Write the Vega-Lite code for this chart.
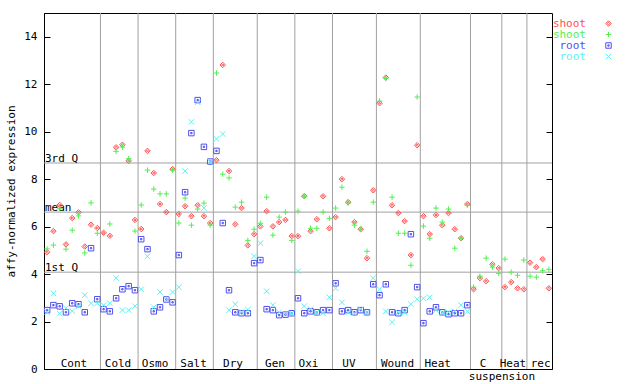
{
  "$schema": "https://vega.github.io/schema/vega-lite/v6.json",
  "width": 508,
  "height": 356,
  "autosize": {"type": "none"},
  "padding": {"left": 44, "top": 13, "right": 88, "bottom": 15},
  "background": "white",
  "config": {
    "view": {"stroke": "black", "strokeWidth": 1},
    "font": "DejaVu Sans Mono",
    "text": {"font": "DejaVu Sans Mono", "fontSize": 11, "color": "black"}
  },
  "resolve": {"axis": {"y": "independent"}},
  "layer": [
    {
      "data": {"values": [{"b": 8.5}, {"b": 14.5}, {"b": 20.5}, {"b": 26.5}, {"b": 33.5}, {"b": 39.5}, {"b": 45.5}, {"b": 52.5}, {"b": 59.5}, {"b": 67.5}, {"b": 72.5}, {"b": 76.5}]},
      "mark": {"type": "rule", "color": "#a0a0a0", "strokeWidth": 1},
      "encoding": {
        "x": {"field": "b", "type": "quantitative", "scale": {"domain": [-0.5, 80.5], "nice": false, "zero": false}, "axis": null}
      }
    },
    {
      "data": {"values": [{"q": 4.08, "t": "1st Q"}, {"q": 6.61, "t": "mean"}, {"q": 8.68, "t": "3rd Q"}]},
      "layer": [
        {
          "mark": {"type": "rule", "color": "#a0a0a0", "strokeWidth": 1},
          "encoding": {
            "y": {"field": "q", "type": "quantitative", "scale": {"domain": [0, 15], "nice": false, "zero": true},
              "axis": {"orient": "left", "values": [0, 2, 4, 6, 8, 10, 12, 14], "tickSize": -6, "tickColor": "black", "domainColor": "black", "grid": false,
                "labelFont": "DejaVu Sans Mono", "labelFontSize": 11, "labelColor": "black", "labelPadding": 13,
                "title": "affy-normalized expression", "titleFont": "DejaVu Sans Mono", "titleFontSize": 11, "titleFontWeight": "normal", "titleColor": "black", "titlePadding": 7}}
          }
        },
        {
          "mark": {"type": "text", "align": "left", "baseline": "alphabetic", "dx": 1, "dy": -1},
          "encoding": {
            "x": {"datum": -0.5, "type": "quantitative"},
            "y": {"field": "q", "type": "quantitative"},
            "text": {"field": "t"}
          }
        }
      ]
    },
    {
      "data": {"values": [
        {"p": 4.28, "t": "Cont"}, {"p": 11.3, "t": "Cold"}, {"p": 17.2, "t": "Osmo"}, {"p": 23.34, "t": "Salt"},
        {"p": 29.63, "t": "Dry"}, {"p": 36.33, "t": "Gen"}, {"p": 41.67, "t": "Oxi"}, {"p": 48.13, "t": "UV"},
        {"p": 55.86, "t": "Wound"}, {"p": 62.28, "t": "Heat"}, {"p": 69.49, "t": "C"}, {"p": 74.28, "t": "Heat"}, {"p": 78.69, "t": "rec"}
      ]},
      "mark": {"type": "text", "align": "center", "baseline": "middle"},
      "encoding": {
        "x": {"field": "p", "type": "quantitative"},
        "y": {"datum": 0.21, "type": "quantitative", "axis": null},
        "text": {"field": "t"}
      }
    },
    {
      "data": {"values": [{"p": 72.52, "t": "suspension"}]},
      "mark": {"type": "text", "align": "center", "baseline": "middle"},
      "encoding": {
        "x": {"field": "p", "type": "quantitative"},
        "y": {"datum": -0.32, "type": "quantitative", "axis": null},
        "text": {"field": "t"}
      }
    },
    {
      "data": {"values": [
        {"i": 0, "shoot1": 4.92, "shoot2": 5.06, "root1": 2.48, "root2": 2.39},
        {"i": 1, "shoot1": 5.81, "shoot2": 5.22, "root1": 2.69, "root2": 3.19},
        {"i": 2, "shoot1": 6.91, "shoot2": 6.77, "root1": 2.64, "root2": 2.33},
        {"i": 3, "shoot1": 5.25, "shoot2": 5.05, "root1": 2.39, "root2": 2.56},
        {"i": 4, "shoot1": 6.36, "shoot2": 5.85, "root1": 2.77, "root2": 2.44},
        {"i": 5, "shoot1": 6.6, "shoot2": 6.45, "root1": 2.73, "root2": 2.65},
        {"i": 6, "shoot1": 5.16, "shoot2": 4.89, "root1": 2.39, "root2": 3.11},
        {"i": 7, "shoot1": 6.08, "shoot2": 7.0, "root1": 5.09, "root2": 2.77},
        {"i": 8, "shoot1": 5.94, "shoot2": 5.72, "root1": 2.94, "root2": 2.77},
        {"i": 9, "shoot1": 5.74, "shoot2": 5.71, "root1": 2.52, "root2": 2.69},
        {"i": 10, "shoot1": 5.61, "shoot2": 6.11, "root1": 2.43, "root2": 2.77},
        {"i": 11, "shoot1": 9.34, "shoot2": 9.17, "root1": 2.98, "root2": 3.83},
        {"i": 12, "shoot1": 9.45, "shoot2": 9.35, "root1": 3.36, "root2": 2.48},
        {"i": 13, "shoot1": 8.77, "shoot2": 8.86, "root1": 3.49, "root2": 2.48},
        {"i": 14, "shoot1": 6.28, "shoot2": 5.81, "root1": 3.32, "root2": 2.65},
        {"i": 15, "shoot1": 5.9, "shoot2": 6.91, "root1": 5.47, "root2": 3.36},
        {"i": 16, "shoot1": 9.19, "shoot2": 8.38, "root1": 5.05, "root2": 4.75},
        {"i": 17, "shoot1": 8.26, "shoot2": 7.58, "root1": 2.43, "root2": 2.6},
        {"i": 18, "shoot1": 6.95, "shoot2": 7.38, "root1": 2.6, "root2": 3.24},
        {"i": 19, "shoot1": 6.61, "shoot2": 7.38, "root1": 2.93, "root2": 2.93},
        {"i": 20, "shoot1": 8.42, "shoot2": 8.38, "root1": 2.81, "root2": 3.24},
        {"i": 21, "shoot1": 6.53, "shoot2": 6.15, "root1": 4.8, "root2": 3.45},
        {"i": 22, "shoot1": 6.86, "shoot2": 7.2, "root1": 7.45, "root2": 8.34},
        {"i": 23, "shoot1": 6.44, "shoot2": 6.06, "root1": 9.94, "root2": 10.41},
        {"i": 24, "shoot1": 6.9, "shoot2": 6.74, "root1": 11.33, "root2": 11.24},
        {"i": 25, "shoot1": 6.44, "shoot2": 6.99, "root1": 9.36, "root2": 6.78},
        {"i": 26, "shoot1": 6.15, "shoot2": 6.06, "root1": 8.74, "root2": 8.72},
        {"i": 27, "shoot1": 8.8, "shoot2": 12.47, "root1": 9.19, "root2": 9.7},
        {"i": 28, "shoot1": 12.81, "shoot2": 8.21, "root1": 6.15, "root2": 9.9},
        {"i": 29, "shoot1": 8.34, "shoot2": 8.05, "root1": 3.32, "root2": 2.48},
        {"i": 30, "shoot1": 6.1, "shoot2": 6.82, "root1": 2.39, "root2": 2.73},
        {"i": 31, "shoot1": 6.78, "shoot2": 7.03, "root1": 2.35, "root2": 2.4},
        {"i": 32, "shoot1": 5.21, "shoot2": 5.42, "root1": 2.35, "root2": 2.5},
        {"i": 33, "shoot1": 5.68, "shoot2": 5.89, "root1": 4.46, "root2": 4.75},
        {"i": 34, "shoot1": 6.01, "shoot2": 6.14, "root1": 4.59, "root2": 5.3},
        {"i": 35, "shoot1": 6.65, "shoot2": 7.24, "root1": 2.52, "root2": 3.28},
        {"i": 36, "shoot1": 6.01, "shoot2": 5.64, "root1": 2.48, "root2": 2.69},
        {"i": 37, "shoot1": 6.19, "shoot2": 6.4, "root1": 2.27, "root2": 2.39},
        {"i": 38, "shoot1": 6.28, "shoot2": 6.61, "root1": 2.29, "root2": 2.29},
        {"i": 39, "shoot1": 5.6, "shoot2": 5.42, "root1": 2.35, "root2": 2.35},
        {"i": 40, "shoot1": 5.6, "shoot2": 6.65, "root1": 2.98, "root2": 4.12},
        {"i": 41, "shoot1": 7.28, "shoot2": 7.28, "root1": 2.35, "root2": 2.65},
        {"i": 42, "shoot1": 5.81, "shoot2": 5.93, "root1": 2.43, "root2": 2.52},
        {"i": 43, "shoot1": 6.31, "shoot2": 5.93, "root1": 2.39, "root2": 2.39},
        {"i": 44, "shoot1": 7.28, "shoot2": 6.61, "root1": 2.48, "root2": 2.35},
        {"i": 45, "shoot1": 5.93, "shoot2": 6.35, "root1": 2.48, "root2": 3.02},
        {"i": 46, "shoot1": 6.4, "shoot2": 6.78, "root1": 3.61, "root2": 3.4},
        {"i": 47, "shoot1": 8.0, "shoot2": 7.66, "root1": 2.43, "root2": 2.81},
        {"i": 48, "shoot1": 7.03, "shoot2": 6.99, "root1": 2.48, "root2": 2.39},
        {"i": 49, "shoot1": 6.19, "shoot2": 6.06, "root1": 2.39, "root2": 2.35},
        {"i": 50, "shoot1": 5.89, "shoot2": 5.89, "root1": 2.48, "root2": 2.52},
        {"i": 51, "shoot1": 4.67, "shoot2": 4.96, "root1": 2.39, "root2": 2.39},
        {"i": 52, "shoot1": 7.53, "shoot2": 7.03, "root1": 3.57, "root2": 3.83},
        {"i": 53, "shoot1": 11.2, "shoot2": 11.29, "root1": 3.11, "root2": 3.36},
        {"i": 54, "shoot1": 12.28, "shoot2": 12.24, "root1": 3.57, "root2": 2.43},
        {"i": 55, "shoot1": 6.9, "shoot2": 7.24, "root1": 2.39, "root2": 1.97},
        {"i": 56, "shoot1": 6.57, "shoot2": 5.72, "root1": 2.35, "root2": 2.39},
        {"i": 57, "shoot1": 6.23, "shoot2": 5.72, "root1": 2.48, "root2": 2.39},
        {"i": 58, "shoot1": 4.8, "shoot2": 4.37, "root1": 5.68, "root2": 2.73},
        {"i": 59, "shoot1": 9.43, "shoot2": 11.46, "root1": 3.45, "root2": 2.94},
        {"i": 60, "shoot1": 6.44, "shoot2": 6.02, "root1": 1.93, "root2": 2.98},
        {"i": 61, "shoot1": 5.68, "shoot2": 5.51, "root1": 2.43, "root2": 3.02},
        {"i": 62, "shoot1": 6.49, "shoot2": 6.78, "root1": 2.6, "root2": 2.48},
        {"i": 63, "shoot1": 6.06, "shoot2": 6.19, "root1": 2.39, "root2": 2.39},
        {"i": 64, "shoot1": 6.57, "shoot2": 6.74, "root1": 2.31, "root2": 2.39},
        {"i": 65, "shoot1": 5.89, "shoot2": 5.09, "root1": 2.35, "root2": 2.43},
        {"i": 66, "shoot1": 5.51, "shoot2": 5.51, "root1": 2.35, "root2": 2.69},
        {"i": 67, "shoot1": 6.95, "shoot2": 6.9, "root1": 2.69, "root2": 2.43},
        {"i": 68, "shoot1": 3.36, "shoot2": 3.45},
        {"i": 69, "shoot1": 3.83, "shoot2": 3.91},
        {"i": 70, "shoot1": 3.7, "shoot2": 4.67},
        {"i": 71, "shoot1": 4.41, "shoot2": 4.29},
        {"i": 72, "shoot1": 4.25, "shoot2": 4.03},
        {"i": 73, "shoot1": 3.45, "shoot2": 4.63},
        {"i": 74, "shoot1": 3.66, "shoot2": 4.08},
        {"i": 75, "shoot1": 3.4, "shoot2": 3.95},
        {"i": 76, "shoot1": 3.36, "shoot2": 4.59},
        {"i": 77, "shoot1": 4.48, "shoot2": 3.91},
        {"i": 78, "shoot1": 4.29, "shoot2": 3.87},
        {"i": 79, "shoot1": 4.63, "shoot2": 4.14},
        {"i": 80, "shoot1": 3.4, "shoot2": 4.2}
      ]},
      "transform": [
        {"fold": ["shoot1", "shoot2", "root1", "root2"], "as": ["series", "value"]},
        {"filter": "isValid(datum.value)"}
      ],
      "mark": {"type": "point", "filled": false, "strokeWidth": 1, "size": 30, "opacity": 1},
      "encoding": {
        "x": {"field": "i", "type": "quantitative"},
        "y": {"field": "value", "type": "quantitative",
          "axis": {"orient": "right", "values": [0, 2, 4, 6, 8, 10, 12, 14], "tickSize": -6, "tickColor": "black", "domain": false, "labels": false, "grid": false, "title": null}},
        "color": {"field": "series", "type": "nominal",
          "scale": {"domain": ["shoot1", "shoot2", "root1", "root2"], "range": ["#ff5050", "#50f050", "#5050f0", "#60f0f0"]},
          "legend": {"orient": "none", "legendX": 559, "legendY": 5, "title": null, "labelExpr": "slice(datum.label, 0, -1)",
            "labelAlign": "right", "labelOffset": -28, "labelFont": "DejaVu Sans Mono", "labelFontSize": 11, "rowPadding": -1,
            "symbolStrokeWidth": 1, "symbolSize": 30, "symbolFillColor": "transparent",
            "labelColor": {"expr": "scale('color', datum.value)"}}},
        "shape": {"field": "series", "type": "nominal",
          "scale": {"domain": ["shoot1", "shoot2", "root1", "root2"],
            "range": ["M0,-1L1,0L0,1L-1,0Z M0,-0.4L0.4,0L0,0.4L-0.4,0Z", "M-1,0H1M0,-1V1", "M-1,-1H1V1H-1Z M-0.25,-0.25H0.25V0.25H-0.25Z", "M-1,-1L1,1M-1,1L1,-1"]},
          "legend": null}
      }
    }
  ]
}
